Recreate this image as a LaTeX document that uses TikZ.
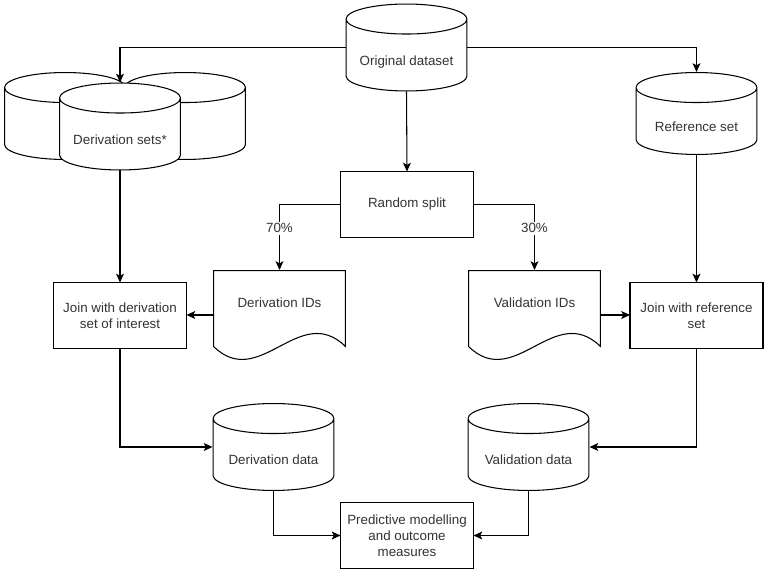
\documentclass[tikz,border=0pt]{standalone}
\usepackage{fontspec}
\setmainfont{Liberation Sans}
\usetikzlibrary{arrows.meta,calc}
\tikzset{
  flownode/.style = {align=center, inner sep=0pt, outer sep=0pt, draw=black,
    fill=white, line width=0.6pt, text=black!80,
    font=\fontsize{7.6}{9.1}\selectfont},
  proc/.style = {flownode, rectangle, minimum width=2.66cm,
    minimum height=1.32cm},% processing step
  dbase/.style = {flownode, draw=none, fill=none, rectangle,
    minimum width=2.44cm, minimum height=1.76cm,
    text height=20pt, text depth=0pt,
    path picture={
      \draw [-, draw=black, fill=white, line width=0.6pt]
        let \p1=([shift={(0.3pt,0.3pt)}]path picture bounding box.south west),
            \p2=([shift={(-0.3pt,-0.3pt)}]path picture bounding box.north east)
        in (\x1,\y2-0.3cm) -- (\x1,\y1+0.3cm)
        arc [start angle=180, end angle=360, x radius=1.22cm-0.3pt, y radius=0.3cm]
        -- (\x2,\y2-0.3cm)
        arc [start angle=0, end angle=180, x radius=1.22cm-0.3pt, y radius=0.3cm]
        arc [start angle=180, end angle=360, x radius=1.22cm-0.3pt, y radius=0.3cm];
    }},% data set
  idlist/.style = {flownode, draw=none, fill=none, rectangle,
    minimum width=2.66cm, minimum height=1.8cm, text depth=0.5cm,
    path picture={
      \draw [-, draw=black, fill=white, line width=0.6pt]
        let \p1=([shift={(0.3pt,0.3pt)}]path picture bounding box.south west),
            \p2=([shift={(-0.3pt,-0.3pt)}]path picture bounding box.north east)
        in (\x1,\y2) -- (\x2,\y2) -- (\x2,\y1+0.26cm)
        .. controls ({\x1+0.65*(\x2-\x1)},\y1+1.16cm)
           and ({\x1+0.35*(\x2-\x1)},\y1-0.64cm) .. (\x1,\y1+0.26cm)
        -- cycle;
    }},% list of IDs
  pct/.style = {fill=white, inner sep=1pt, text=black!80,
    font=\fontsize{7.6}{9.1}\selectfont}% split share
}
\begin{document}
\begin{tikzpicture}[->,>={Stealth[length=5pt,width=4.5pt,inset=1.2pt]},
  x=0.02cm,y=-0.02cm,line width=0.6pt]
\useasboundingbox (0,0) rectangle (767,573);
\node [dbase] (orig) at (406.5,47.5) {Original dataset};
\node [dbase] (dsetsL) at (65,116) {};
\node [dbase] (dsetsR) at (185,116) {};
\node [dbase] (dsets) at (120,126.5) {Derivation sets*};
\node [dbase, minimum height=1.66cm] (ref) at (696.5,113.5) {Reference set};
\node [proc] (split) at (407,204.5) {Random split};
\node [idlist] (dids) at (279.5,315) {Derivation IDs};
\node [idlist] (vids) at (534.5,315) {Validation IDs};
\node [proc] (joind) at (120,315.5) {Join with derivation\\set of interest};
\node [proc] (joinr) at (696.5,315.5) {Join with reference\\set};
\node [dbase] (ddata) at (273.5,447) {Derivation data};
\node [dbase] (vdata) at (528.5,447) {Validation data};
\node [proc] (model) at (407,535.5) {Predictive modelling\\and outcome\\measures};

\draw (orig.west) -| (dsets.north);
\draw (orig.east) -| (ref.north);
\draw (orig.south) -- (split.north);
\draw (split.west) -| node [pct, pos=0.68] {70\%} (dids.north);
\draw (split.east) -| node [pct, pos=0.68] {30\%} (vids.north);
\draw (dsets.south) -- (joind.north);
\draw (ref.south) -- (joinr.north);
\draw (dids.west) -- (dids.west -| joind.east);
\draw (vids.east) -- (vids.east -| joinr.west);
\draw (joind.south) |- (ddata.west);
\draw (joinr.south) |- (vdata.east);
\draw (ddata.south) |- (model.west);
\draw (vdata.south) |- (model.east);
\end{tikzpicture}
\end{document}
